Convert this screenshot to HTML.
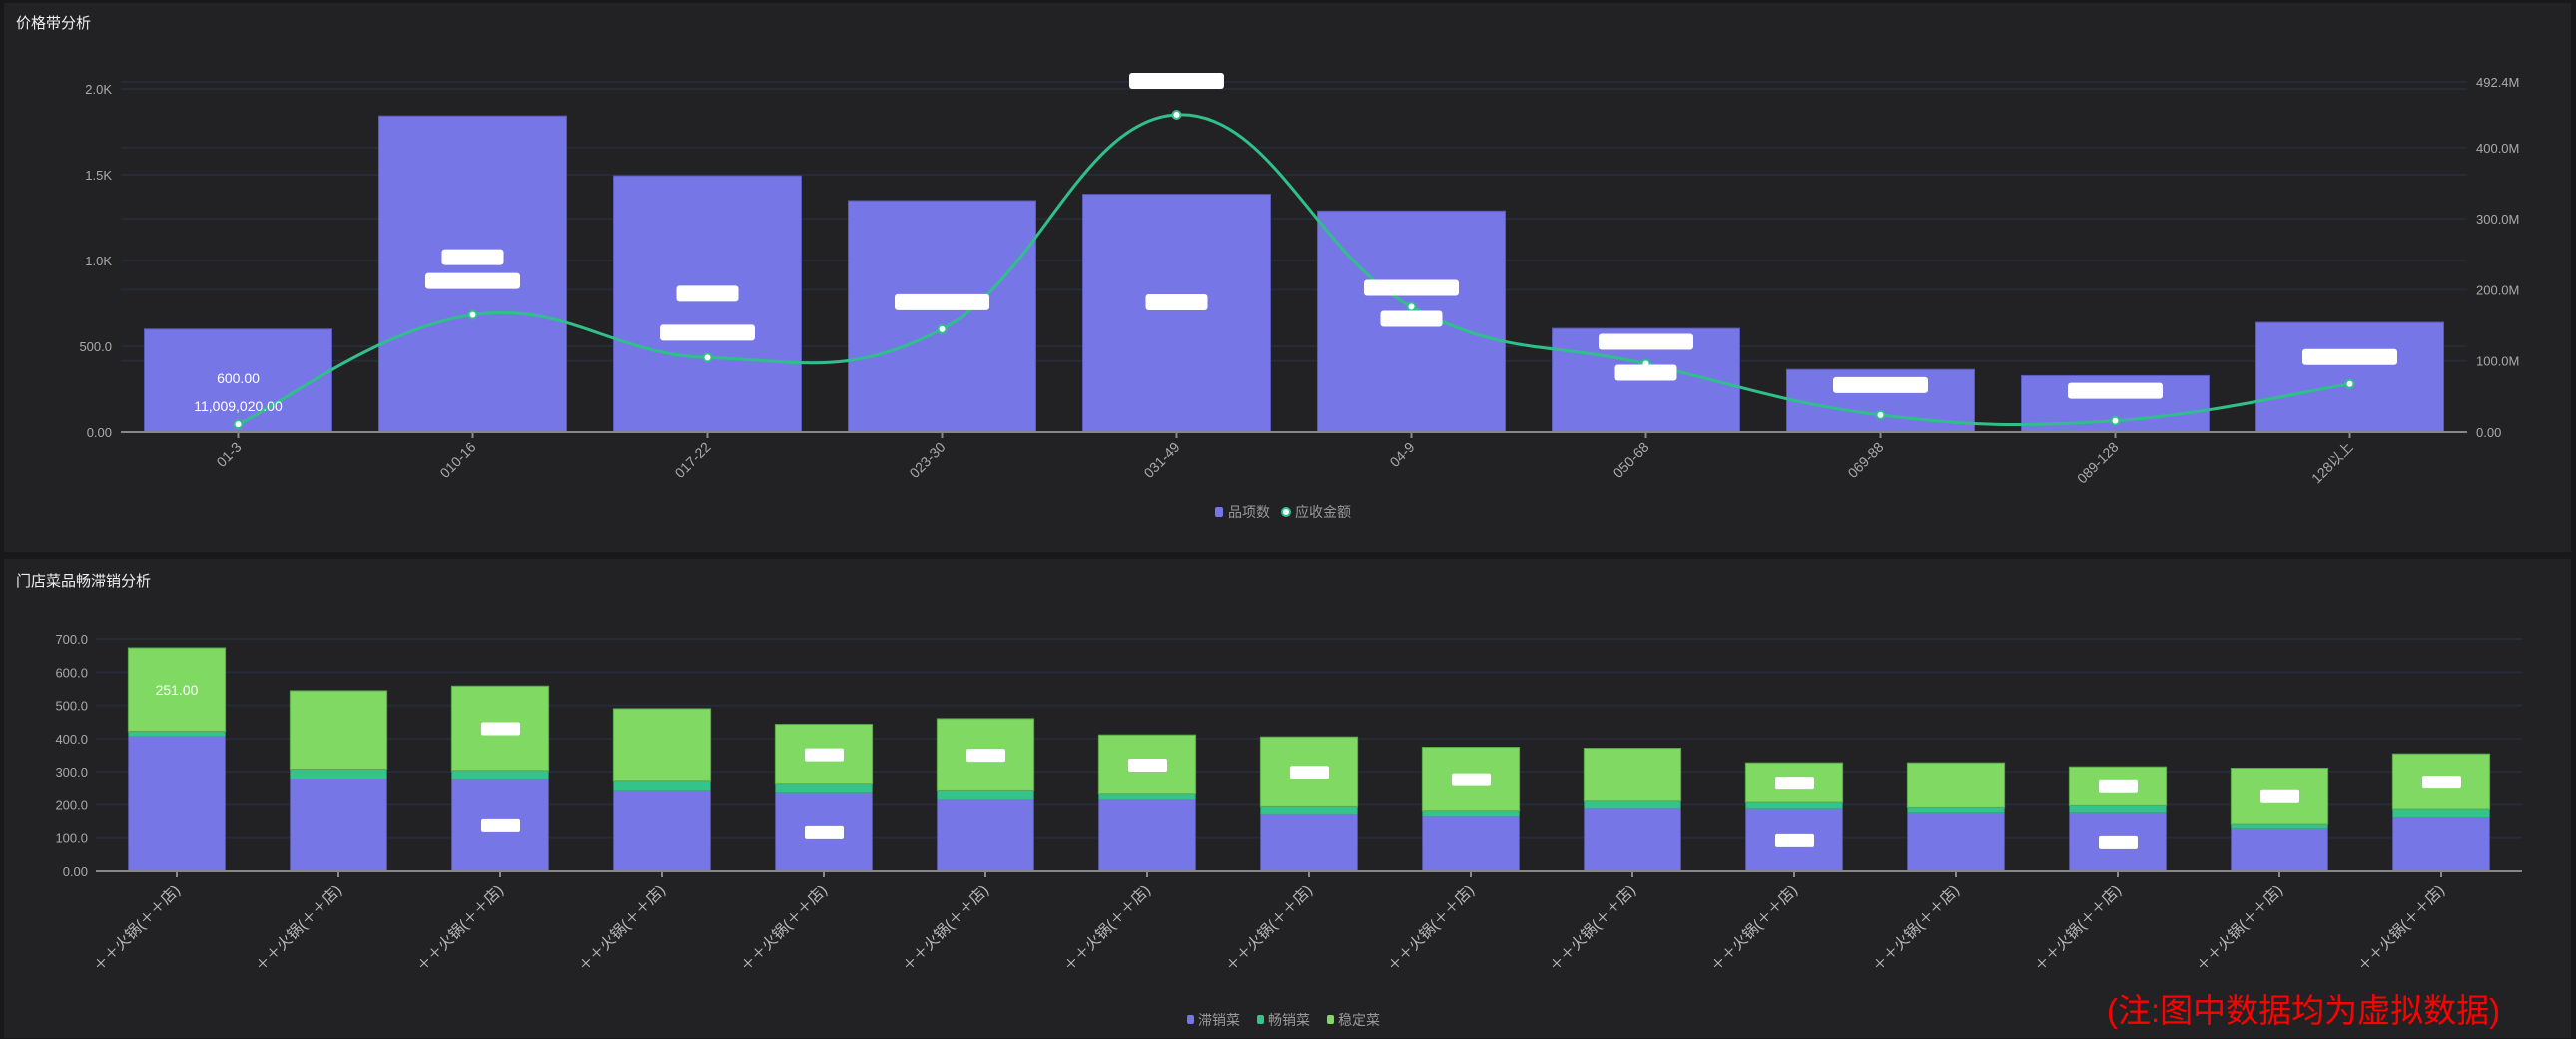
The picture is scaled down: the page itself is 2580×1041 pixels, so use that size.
<!DOCTYPE html>
<html><head><meta charset="utf-8">
<style>
html,body{margin:0;padding:0;background:#18181a;width:2580px;height:1041px;overflow:hidden;font-family:"Liberation Sans","Noto Sans CJK SC",sans-serif;}
svg{display:block}
</style></head>
<body>
<svg id="root" width="2580" height="1041" xmlns="http://www.w3.org/2000/svg">
<rect x="0" y="0" width="2580" height="1041" fill="#18181a"/>
<rect x="4" y="3" width="2571" height="550" fill="#222224"/>
<rect x="4" y="560" width="2571" height="480" fill="#222224"/>
<text x="16" y="28" fill="#eee" font-size="15">价格带分析</text>
<text x="16" y="587" fill="#eee" font-size="15">门店菜品畅滞销分析</text>
<g id="top"></g>
<g id="bottom"></g>
<text x="2110" y="1024" fill="#ff0000" font-size="33">(注:图中数据均为虚拟数据)</text>
</svg>
<script>
const NS="http://www.w3.org/2000/svg";
// ---- Top chart data ----
const bandCategories=["01-3","010-16","017-22","023-30","031-49","04-9","050-68","069-88","089-128","128以上"];
const itemCounts=[600,1842,1494,1349,1386,1289,604,365,329,639];
const receivables=[11009020,164700000,104600000,144600000,446000000,176000000,96000000,24000000,16000000,67600000];
const leftTicks=[0,500,1000,1500,2000];
const leftTickLabels=["0.00","500.0","1.0K","1.5K","2.0K"];
const rightTicks=[0,100e6,200e6,300e6,400e6,492.4e6];
const rightTickLabels=["0.00","100.0M","200.0M","300.0M","400.0M","492.4M"];
// ---- Bottom chart data ----
const storeCategories=Array(15).fill("＋＋火锅(＋＋店)");
const slowSelling=[407,278,277,241,235,215,215,170,164,188,187,175,175,127,160];
const bestSelling=[15,30,27,30,27,27,17,24,17,23,20,16,22,14,26];
const stableSelling=[251,236,254,219,181,218,179,211,193,160,120,136,118,170,168];
const bottomTicks=[0,100,200,300,400,500,600,700];
const bottomTickLabels=["0.00","100.0","200.0","300.0","400.0","500.0","600.0","700.0"];

function el(tag,attrs,parent,text){const e=document.createElementNS(NS,tag);for(const k in attrs)e.setAttribute(k,attrs[k]);if(text!==undefined)e.textContent=text;parent.appendChild(e);return e;}

// ===== Top chart =====
(function(){
const g=document.getElementById('top');
const x0=121,x1=2471,y0=433;
const band=(x1-x0)/bandCategories.length;
const yL=v=>y0-v*(433-89)/2000;
const yR=v=>y0-v*(71.3/100e6);
const cx=i=>x0+band*(i+0.5);
rightTicks.forEach((t,i)=>{const l=el('line',{x1:x0,x2:x1,y1:yR(t),y2:yR(t),stroke:'#262b38','stroke-width':2},g);

const tx=el('text',{x:2480,y:yR(t)+5,fill:'#aaa','font-size':13},g,rightTickLabels[i]);
});
leftTicks.forEach((t,i)=>{const l=el('line',{x1:x0,x2:x1,y1:yL(t),y2:yL(t),stroke:'#262b38','stroke-width':2},g);

const tx=el('text',{x:112,y:yL(t)+5,fill:'#aaa','font-size':13,'text-anchor':'end'},g,leftTickLabels[i]);
});
itemCounts.forEach((v,i)=>{const w=band*0.8;
const r=el('rect',{x:cx(i)-w/2,y:yL(v),width:w,height:y0-yL(v),fill:'#7776e6',stroke:'#5b5ab8','stroke-width':1},g);
});
const ax=el('line',{x1:x0,x2:x1,y1:y0,y2:y0,stroke:'#888','stroke-width':2},g);

bandCategories.forEach((c,i)=>{el('line',{x1:cx(i),x2:cx(i),y1:y0,y2:y0+6,stroke:'#888','stroke-width':2},g);
const t=el('text',{x:cx(i)+4,y:y0+16,fill:'#aaa','font-size':14,'text-anchor':'end',transform:`rotate(-45 ${cx(i)+4} ${y0+16})`},g,c);
});
// smooth line
const pts=receivables.map((v,i)=>[cx(i),yR(v)]);
let d='M'+pts[0][0]+','+pts[0][1];
for(let i=0;i<pts.length-1;i++){const p0=pts[Math.max(0,i-1)],p1=pts[i],p2=pts[i+1],p3=pts[Math.min(pts.length-1,i+2)];const k=0.2;
d+=` C${p1[0]+(p2[0]-p0[0])*k},${p1[1]+(p2[1]-p0[1])*k} ${p2[0]-(p3[0]-p1[0])*k},${p2[1]-(p3[1]-p1[1])*k} ${p2[0]},${p2[1]}`;}
const ln=el('path',{d:d,fill:'none',stroke:'#2fc08a','stroke-width':3},g);

pts.forEach(p=>{const c=el('circle',{cx:p[0],cy:p[1],r:4,fill:'#fff',stroke:'#2fc08a','stroke-width':2},g);
});
// value labels
const l1=el('text',{x:cx(0),y:384,fill:'#fff','font-size':14,'text-anchor':'middle'},g,itemCounts[0].toFixed(2));

const l2=el('text',{x:cx(0),y:412,fill:'#fff','font-size':14,'text-anchor':'middle'},g,receivables[0].toLocaleString('en-US',{minimumFractionDigits:2}));

// redacted boxes: [index, offset from point(px), width]
const boxes=[[1,-58,62,'b'],[1,-34,95,'l'],[2,-64,62,'b'],[2,-25,95,'l'],[3,-27,95,'l'],[4,-34,95,'l'],[4,188,62,'l'],[5,-19,95,'l'],[5,12,62,'l'],[6,-22,95,'l'],[6,9,62,'l'],[7,-30,95,'l'],[8,-30,95,'l'],[9,-27,95,'l']];
boxes.forEach(b=>{const i=b[0];const y=yR(receivables[i])+b[1];
const r=el('rect',{x:cx(i)-b[2]/2,y:y-8,width:b[2],height:16,rx:3,fill:'#fff'},g);
});
// legend
const lg=el('g',{},g);
const s1=el('rect',{x:1217,y:508,width:8,height:10,rx:2,fill:'#7776e6'},lg);
const t1=el('text',{x:1230,y:518,fill:'#999','font-size':14},lg,'品项数');
const s2=el('circle',{cx:1288,cy:513,r:4,fill:'#fff',stroke:'#2fc08a','stroke-width':2},lg);
const t2=el('text',{x:1297,y:518,fill:'#999','font-size':14},lg,'应收金额');
})();

// ===== Bottom chart =====
(function(){
const g=document.getElementById('bottom');
const x0=96,x1=2526,y0=873;
const band=(x1-x0)/storeCategories.length;
const y=v=>y0-v*(873-640)/700;
const cx=i=>x0+band*(i+0.5);
bottomTicks.forEach((t,i)=>{const l=el('line',{x1:x0,x2:x1,y1:y(t),y2:y(t),stroke:'#262b38','stroke-width':2},g);

const tx=el('text',{x:88,y:y(t)+5,fill:'#aaa','font-size':13,'text-anchor':'end'},g,bottomTickLabels[i]);
});
const w=band*0.6;
storeCategories.forEach((c,i)=>{
const a=slowSelling[i],b=bestSelling[i],s=stableSelling[i];
const r1=el('rect',{x:cx(i)-w/2,y:y(a),width:w,height:y0-y(a),fill:'#7776e6'},g);

const r2=el('rect',{x:cx(i)-w/2,y:y(a+b),width:w,height:y(a)-y(a+b),fill:'#34c38a'},g);

const r3=el('rect',{x:cx(i)-w/2,y:y(a+b+s),width:w,height:y(a+b)-y(a+b+s),fill:'#7fd962',stroke:'#5aa84a','stroke-width':1},g);

el('line',{x1:cx(i),x2:cx(i),y1:y0,y2:y0+6,stroke:'#888','stroke-width':2},g);
const tx=cx(i)+4,ty=y0+20;
const t=el('text',{x:tx,y:ty,fill:'#bbb','font-size':15,'text-anchor':'end',transform:`rotate(-45 ${tx} ${ty})`},g,c);
});
const ax=el('line',{x1:x0,x2:x1,y1:y0,y2:y0,stroke:'#888','stroke-width':2},g);

const v0=el('text',{x:cx(0),y:y(slowSelling[0]+bestSelling[0]+stableSelling[0]/2)+5,fill:'#fff','font-size':14,'text-anchor':'middle'},g,stableSelling[0].toFixed(2));

const stableBoxes=[2,4,5,6,7,8,10,12,13,14];
stableBoxes.forEach(i=>{const yy=y(slowSelling[i]+bestSelling[i]+stableSelling[i]/2);
const r=el('rect',{x:cx(i)-19,y:yy-6,width:39,height:13,rx:2,fill:'#fff'},g);
});
const slowBoxes=[2,4,10,12];
slowBoxes.forEach(i=>{const yy=y(slowSelling[i]/2);
const r=el('rect',{x:cx(i)-19,y:yy-6,width:39,height:13,rx:2,fill:'#fff'},g);
});
const lg=el('g',{},g);
const items=[['滞销菜','#7776e6',1189],['畅销菜','#34c38a',1259],['稳定菜','#7fd962',1329]];
items.forEach(it=>{const m=el('rect',{x:it[2],y:1017,width:7,height:9,rx:2,fill:it[1]},lg);

const t=el('text',{x:it[2]+11,y:1027,fill:'#999','font-size':14},lg,it[0]);
});
})();
</script>
</body></html>
